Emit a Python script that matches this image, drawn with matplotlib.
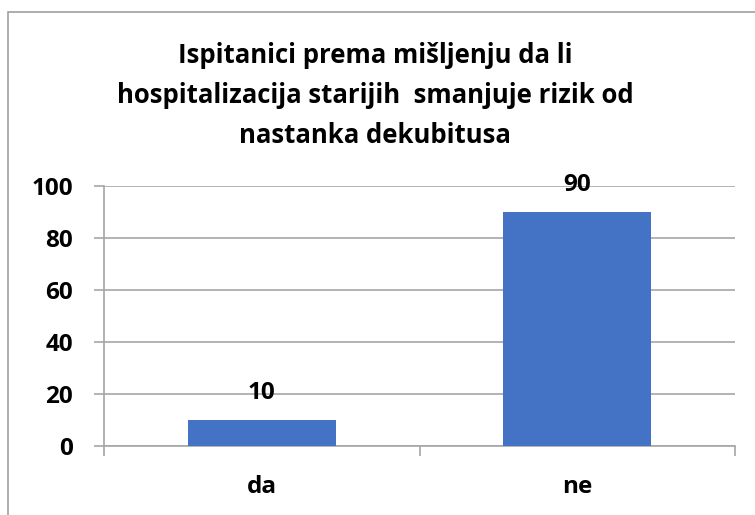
import matplotlib.pyplot as plt
from matplotlib.patches import Rectangle

# data
categories = ["da", "ne"]
values = [10, 90]
title = "Ispitanici prema mišljenju da li\nhospitalizacija starijih  smanjuje rizik od\nnastanka dekubitusa"

BAR = "#4472C4"
GRID = "#A6A6A6"

plt.rcParams["font.family"] = ["Open Sans", "DejaVu Sans"]
plt.rcParams["font.weight"] = "bold"

fig = plt.figure(figsize=(7.55, 5.15), dpi=100)
ax = fig.add_axes([104 / 755, 1 - 446 / 515, (735 - 104) / 755, (446 - 186) / 515])

x = list(range(len(categories)))
bars = ax.bar(x, values, width=0.47, color=BAR, zorder=3)

ax.set_xlim(-0.5, len(categories) - 0.5)
ax.set_ylim(0, 100)
ax.set_yticks(range(0, 101, 20))
ax.yaxis.grid(True, color=GRID, linewidth=1.2, zorder=0)
ax.set_axisbelow(True)

for s in ["top", "right"]:
    ax.spines[s].set_visible(False)
for s in ["left", "bottom"]:
    ax.spines[s].set_color(GRID)
    ax.spines[s].set_linewidth(1.2)

ax.tick_params(axis="y", length=7.5, width=1.2, color=GRID, pad=15, labelsize=17.5)
ax.set_xticks(x)
ax.set_xticklabels(categories, fontweight="bold")
ax.tick_params(axis="x", which="major", length=0, pad=21, labelsize=17.5)
ax.set_xticks([i - 0.5 for i in range(len(categories) + 1)], minor=True)
ax.tick_params(axis="x", which="minor", length=7.5, width=1.2, color=GRID)
for lab in ax.get_yticklabels():
    lab.set_fontweight("bold")

for b, v in zip(bars, values):
    ax.annotate(str(v), (b.get_x() + b.get_width() / 2, v), xytext=(0, 15),
                textcoords="offset points", ha="center", va="baseline",
                fontsize=17.5, fontweight="bold")

fig.text(0.497, 1 - 42 / 515, title, ha="center", va="top", fontsize=18.5,
         fontweight="bold", linespacing=1.62)

fig.add_artist(Rectangle((8 / 755, -0.1), 1.2, 1.1 - 12 / 515, transform=fig.transFigure,
                         fill=False, edgecolor="#A0A0A0", linewidth=1.2))

fig.savefig("out.png", dpi=100)
